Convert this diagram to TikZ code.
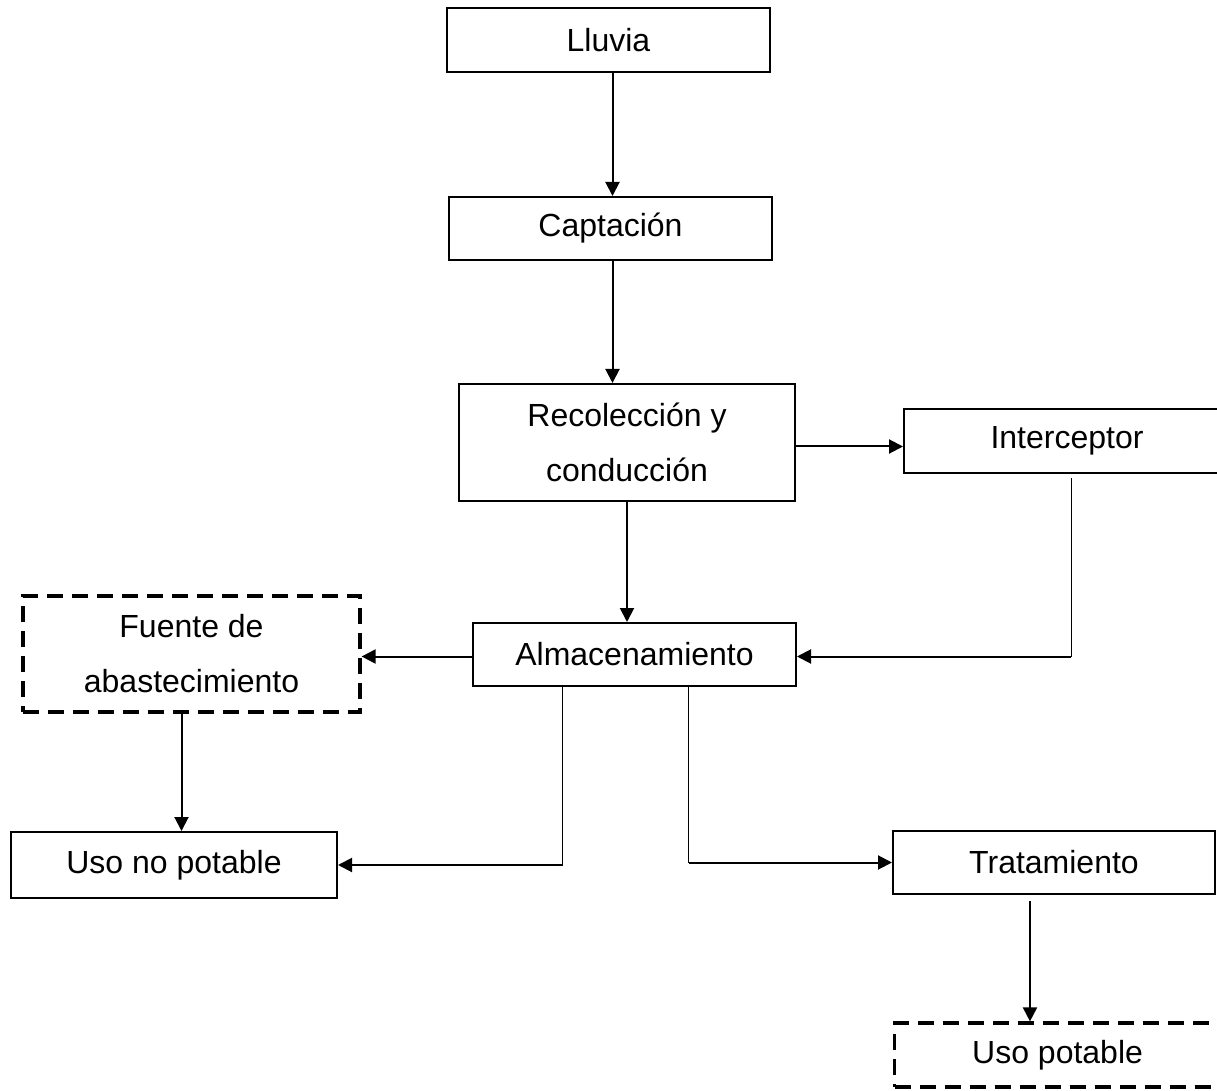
\documentclass[tikz,border=0pt]{standalone}
\usepackage{fontspec}
\setmainfont{Liberation Sans}
\usetikzlibrary{positioning,arrows.meta}

\begin{document}
\begin{tikzpicture}[x=0.5pt,y=-0.5pt,
                       box/.style={rectangle,draw,line width=1pt,inner sep=2pt,
                                   align=center,font=\fontsize{16}{27.5}\selectfont},
                       dash box/.style={box,line width=1.6pt,dash pattern=on 8pt off 4.5pt},
                       flow/.style={line width=1pt,-{Triangle[length=7pt,width=7pt]}},
                       thin line/.style={line width=0.5pt}
                      ]
   \useasboundingbox (0,0) rectangle (1217,1091);
   \node[box,minimum width=161.5pt,minimum height=32pt] (lluvia) at (608.5,40) {Lluvia};
   \node[box,minimum width=161.5pt,minimum height=31.5pt] (captacion) at (610.5,228.5) {Captación};
   \node[box,minimum width=168pt,minimum height=58.5pt] (recoleccion) at (627,442.5) {Recolección y\\conducción};
   \node[box,minimum width=163pt,minimum height=32pt] (interceptor) at (1067,441) {Interceptor};
   \node[dash box,minimum width=168.5pt,minimum height=58pt] (fuente) at (191.5,654) {Fuente de\\abastecimiento};
   \node[box,minimum width=161.5pt,minimum height=31.5pt] (almacen) at (634.5,654.5) {Almacenamiento};
   \node[box,minimum width=163pt,minimum height=33pt] (nopotable) at (174,865) {Uso no potable};
   \node[box,minimum width=161pt,minimum height=31.5pt] (tratamiento) at (1054,862.5) {Tratamiento};
   \node[dash box,minimum width=175pt,minimum height=32pt,anchor=west] (potable) at (893,1055) {\hspace*{-12pt}Uso potable};
   % flechas principales
   \draw[flow] ([xshift=2pt]lluvia.south) -- ([xshift=2pt]lluvia.south |- captacion.north);
   \draw[flow] ([xshift=1pt]captacion.south) -- ([xshift=1pt]captacion.south |- recoleccion.north);
   \draw[flow] (recoleccion.south) -- (recoleccion.south |- almacen.north);
   \draw[flow] ([yshift=-2pt]recoleccion.east) -- ([yshift=-2pt]recoleccion.east -| interceptor.west);
   \draw[flow] ([yshift=-1pt]almacen.west) -- ([yshift=-1pt]almacen.west -| fuente.east);
   \draw[flow] ([xshift=-5pt]fuente.south) -- ([xshift=-5pt]fuente.south |- nopotable.north);
   \draw[flow] ([xshift=-12pt,yshift=-3pt]tratamiento.south) -- ([xshift=-12pt]tratamiento.south |- potable.north);
   % retornos
   \coordinate (ain) at ([yshift=-1pt]almacen.east);
   \draw[thin line] ([xshift=2pt,yshift=-2pt]interceptor.south) -- ([xshift=2pt]interceptor.south |- ain) coordinate (ci);
   \draw[flow] (ci) -- (ain);
   \draw[thin line] ([xshift=-36pt]almacen.south) -- ([xshift=-36pt]almacen.south |- nopotable.east) coordinate (cn);
   \draw[flow] (cn) -- (nopotable.east);
   \draw[thin line] ([xshift=27pt]almacen.south) -- ([xshift=27pt]almacen.south |- tratamiento.west) coordinate (ct);
   \draw[flow] (ct) -- (tratamiento.west);
  \end{tikzpicture}
\end{document}
